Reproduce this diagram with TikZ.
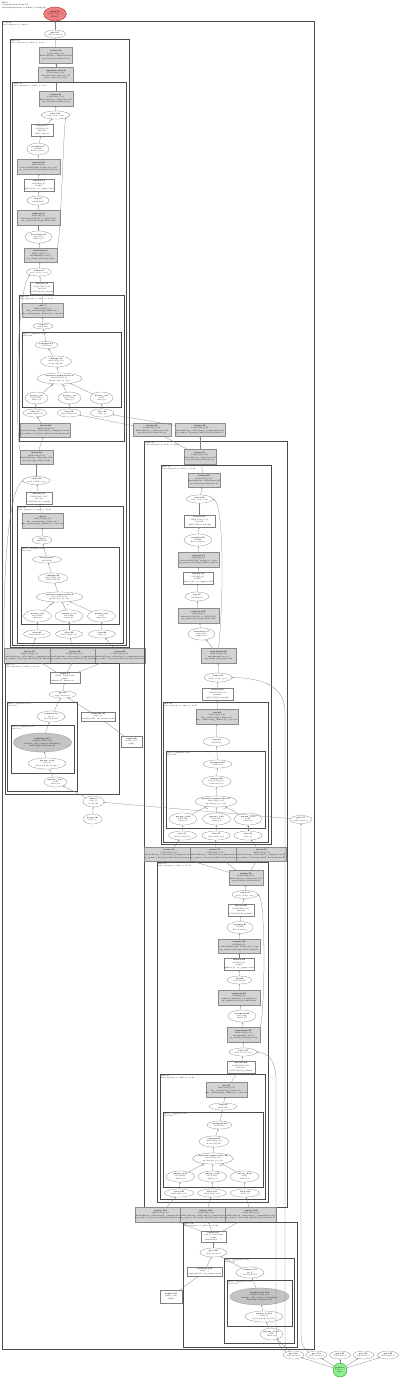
\documentclass[tikz,border=0pt]{standalone}
\usetikzlibrary{shapes.geometric,arrows.meta}
\definecolor{gfill}{HTML}{D3D3D3}
\definecolor{gefill}{HTML}{C4C4C4}
\definecolor{redf}{HTML}{F08080}
\definecolor{greenf}{HTML}{90EE90}
\tikzset{
 base/.style={inner sep=0pt,outer sep=0pt,align=center,font=\fontsize{1.9}{2.5}\selectfont,line width=0.25pt},
 gbox/.style={base,rectangle,draw=black!45,fill=gfill},
 wbox/.style={base,rectangle,draw=black!50,fill=white},
 ell/.style={base,ellipse,draw=black!50,fill=white,font=\fontsize{1.8}{2.4}\selectfont},
 gell/.style={base,ellipse,draw=black!45,fill=gefill},
 clus/.style={draw=black!70,line width=0.5pt},
 clab/.style={inner sep=0pt,anchor=north west,align=left,font=\fontsize{1.7}{2.2}\selectfont},
 edge/.style={draw=black!50,line width=0.25pt,-{Stealth[length=1.6pt,width=1.3pt]}},
 elab/.style={inner sep=0pt,font=\fontsize{1.5}{1.8}\selectfont},
}
\newcommand{\mkG}[6]{\node[gbox,minimum width=#4pt,minimum height=#5pt] (#1) at (#2,#3) {#6};}
\newcommand{\mkW}[6]{\node[wbox,minimum width=#4pt,minimum height=#5pt] (#1) at (#2,#3) {#6};}
\newcommand{\mkE}[6]{\node[ell,minimum width=#4pt,minimum height=#5pt] (#1) at (#2,#3) {#6};}
\newcommand{\mkGE}[6]{\node[gell,minimum width=#4pt,minimum height=#5pt] (#1) at (#2,#3) {#6};}
\newcommand{\mkC}[6]{\draw[clus] (#2,#3) rectangle (#4,#5); \node[clab] (#1) at (#2+0.9,#3+0.8) {#6};}
\newcommand{\tFw}[2]{\textbf{#1}\\f32[4,128]\{1,0\}\\kind=kLoop, calls=fused\_computation.#2\\op\_name="jit(step)/while/body/#1"}
\newcommand{\tFs}[2]{\textbf{#1}\\f32[4,128]\{1,0\}\\kind=kLoop, calls=fused.#2\\op=jit(step)/while/body}
\newcommand{\tB}[1]{\textbf{#1}\\f32[4,128]\{1,0\}\\bitcast\\(f32[512]\{0\} param)}
\begin{document}
\begin{tikzpicture}[x=1pt,y=-1pt]
\fill[white] (0,0) rectangle (400,1379);
\useasboundingbox (0,0) rectangle (400,1379);
\node[clab,font=\fontsize{2}{2.5}\selectfont] (hdr) at (2,1.6) {HLO\\Computation body.29\\Subcomputation of while.3 (body.29)};
\node[base,ellipse,draw=red!60!black,fill=redf,minimum width=21pt,minimum height=14pt] (root) at (55,14) {\textbf{tuple.57}\\(s32[], f32[...])\\ROOT};
% ===== outer cluster A
\mkC{cA}{2}{21}{314}{1349}{body.29\\Subcomputation: while.3}
\mkE{n1}{55}{34}{21}{8}{\textbf{gte.107}\\s32[] index=0}
% ===== cluster B
\mkC{cB}{10}{39}{129}{647}{while.12\\Subcomputation: while\_body.12}
\mkG{b1}{56}{55}{33}{16}{\tFs{fusion.33}{33}}
\mkG{b2}{56}{74.5}{35}{15}{\textbf{dynamic-slice.8}\\f32[1,128]\{1,0\}\\dynamic-slice(p0, p1, c0)\\slice\_sizes=\{1,128\}}
\mkC{cC}{12.7}{82}{126}{645}{while.15\\Subcomputation: while\_body.15}
\mkG{c1}{56}{98.5}{34}{15}{\tFs{fusion.41}{41}}
\mkE{c2}{55.5}{115}{29}{8}{\textbf{add.1.23}\\s32[] add(i, one)}
\mkW{c3}{42}{130}{22}{12}{\textbf{bitcast.9}\\f32[128]\{0\}\\bitcast\\f32[1,128] in}
\mkE{c4}{38}{149}{22}{12}{\textbf{multiply.17}\\f32[128]\\lhs=x, rhs=y}
\mkG{c5}{38.5}{166.5}{43}{15}{\textbf{convert.20}\\f32[128]\{0\}\\convert(bf16[128] reduce.4), type\\op\_name=jit(step)/while/convert}
\mkW{c6}{39}{185}{30}{12}{\textbf{reduce.14}\\f32[128]\{0\}\\reduce\\dims=\{0\}, to\_apply=add}
\mkE{c7}{38}{200.5}{22}{9}{\textbf{exp.12}\\f32[128]\{0\}}
\mkG{c8}{38.5}{217.5}{43}{15}{\textbf{subtract.9}\\f32[128]\{0\}\\subtract(f32[128] a, f32[128] b)\\op\_name=jit(step)/while/sub}
\mkE{c9}{38.5}{237}{27}{12}{\textbf{broadcast.20}\\f32[4,128]\\dims=\{1\}}
\mkG{c10}{40.5}{255}{33}{14}{\textbf{maximum.5}\\f32[4,128]\{1,0\}\\maximum(x, zero)\\op\_name=jit(step)/relu}
\mkE{c11}{39}{272}{24}{8}{\textbf{add.2.31}\\s32[] add(j, one)}
\mkW{c12}{42}{288}{22}{12}{\tB{bitcast.12}}
% cluster D
\mkC{cD}{19}{295}{124}{441}{while.18\\Subcomputation: while\_body.18}
\mkG{d1}{42.5}{310}{41}{14}{\textbf{dot.7}\\f32[4,128]\{1,0\}\\lhs\_contracting\_dims=\{1\}\\rhs\_contracting\_dims=\{0\}, op=dot}
\mkE{d2}{43}{326}{20}{6}{\textbf{copy.3}\\f32[4,128]}
\mkC{cE}{22}{332}{121}{407}{fused\_computation.22\\fusion.22}
\mkE{e1}{46.5}{345}{23}{7}{\textbf{transpose.5}\\f32[128,4]}
\mkE{e2}{56}{361.5}{31}{11}{\textbf{reshape.19}\\f32[4,128]\{1,0\}\\from f32[512]}
\mkE{e3}{59.5}{378.5}{45}{11}{\textbf{dynamic-update-slice.4}\\f32[4,128]\{1,0\}\\update(p0, p1, p2)}
\mkE{e4}{36.5}{398}{23}{12}{\textbf{param\_0.6}\\f32[4,128]\\fused p0}
\mkE{e5}{69.5}{398}{23}{12}{\textbf{param\_1.9}\\f32[1,128]\\fused p1}
\mkE{e6}{101.5}{398}{23}{12}{\textbf{param\_2.4}\\s32[]\\fused p2}
\mkE{d3}{35}{413}{24}{8}{\textbf{slice.17}\\f32[4,128]\{1,0\}}
\mkE{d4}{69}{413}{24}{8}{\textbf{slice.18}\\f32[1,128]\{1,0\}}
\mkE{d5}{102}{413}{24}{8}{\textbf{slice.19}\\s32[] \{\}}
\mkG{d6}{45.5}{430}{45}{14}{\tFw{fusion.22}{22}}
\mkG{c13}{36.5}{457}{33}{14}{\tFs{fusion.24}{24}}
\mkE{c14}{36.5}{480.5}{27}{8}{\textbf{add.3.40}\\s32[] add(k, one)}
\mkW{c15}{39}{498}{26}{12}{\tB{bitcast.15}}
% cluster F
\mkC{cF}{17}{506}{123}{643}{while.21\\Subcomputation: while\_body.21}
\mkG{f1}{42.5}{520.5}{41}{15}{\textbf{dot.9}\\f32[4,128]\{1,0\}\\lhs\_contracting\_dims=\{1\}\\rhs\_contracting\_dims=\{0\}, op=dot}
\mkE{f2}{42}{540}{20}{8}{\textbf{copy.5}\\f32[4,128]}
\mkC{cG}{21}{547}{119}{624}{fused\_computation.26\\fusion.26}
\mkE{g1}{47}{559.5}{29}{7}{\textbf{transpose.7}\\f32[128,4]}
\mkE{g2}{53}{578}{30}{10}{\textbf{reshape.23}\\f32[4,128]\{1,0\}\\from f32[512]}
\mkE{g3}{59.5}{597}{47}{10}{\textbf{dynamic-update-slice.6}\\f32[4,128]\{1,0\}\\update(p0, p1, p2)}
\mkE{g4}{37.5}{616}{28}{12}{\textbf{param\_0.8}\\f32[4,128]\\fused p0}
\mkE{g5}{69}{616}{28}{12}{\textbf{param\_1.11}\\f32[1,128]\\fused p1}
\mkE{g6}{101.5}{616}{28}{12}{\textbf{param\_2.6}\\s32[]\\fused p2}
\mkE{f3}{37}{634}{27}{8}{\textbf{slice.21}\\f32[4,128]\{1,0\}}
\mkE{f4}{69}{634}{27}{8}{\textbf{slice.22}\\f32[1,128]\{1,0\}}
\mkE{f5}{102}{634}{27}{8}{\textbf{slice.23}\\s32[] \{\}}
\mkG{p1}{29.5}{655.5}{45}{15}{\tFw{fusion.27}{27}}
\mkG{p2}{75}{655.5}{44}{15}{\tFw{fusion.28}{28}}
\mkG{p3}{120}{655.5}{44}{15}{\tFw{fusion.29}{29}}
% cluster H
\mkC{cH}{5}{663}{119}{794}{while.30\\Subcomputation: while\_cond.30}
\mkW{h1}{65}{677.5}{30}{11}{\textbf{tuple.31}\\(s32[], f32[4,128])\\tuple\\(fusion.27, fusion.28, ...)}
\mkE{h2}{62.5}{694.5}{27}{7}{\textbf{gte.32}\\s32[] index=0}
\mkC{cI}{7}{702}{77}{791}{fused\_computation.33\\fusion.33}
\mkE{i1}{51}{716.5}{28}{11}{\textbf{compare.34}\\pred[]\\direction=LT}
\mkC{cJ}{11}{725}{74}{773}{fused\_computation.35\\fusion.35}
\mkGE{j1}{42.5}{742.5}{58}{19}{\textbf{custom-call.7}\\f32[128,256]\{1,0\}\\custom\_call\_target="Sharding"\\sharding=\{replicated\}}
\mkE{j2}{47}{763.5}{38}{11}{\textbf{param\_0.36}\\s32[] \{\}\\fused param, index 0}
\mkE{i2}{55.5}{782}{23}{10}{\textbf{param\_0.37}\\s32[]\\fused p0}
\mkW{h3}{98}{716.5}{34}{9}{\textbf{constant.38}\\s32[] \{\}\\constant(16), op\_name=cond}
\mkW{q1}{131.5}{741.5}{21}{11}{\textbf{tuple.39}\\(s32[], f32)\\tuple}
\mkE{q2}{93.5}{801.5}{21}{11}{\textbf{while.3}\\s32[] \{\}\\body=29}
\mkE{q3}{92.5}{819}{19}{10}{\textbf{param.40}\\s32[] \{\}}
% ===== right column
\mkG{r1}{152}{429.5}{38}{13}{\tFs{fusion.44}{44}}
\mkG{r2}{200}{429.5}{44}{13}{\tFw{fusion.45}{45}}
\mkC{cK}{144.5}{441.5}{287.5}{1207}{while.46\\Subcomputation: while\_body.46}
\mkG{k1}{200}{456.5}{32}{15}{\tFs{fusion.47}{47}}
\mkC{cL}{161}{465}{271}{844}{while.48\\Subcomputation: while\_body.48}
\mkG{l1}{204}{480}{30}{14}{\tFs{fusion.49}{49}}
\mkE{l2}{199.5}{499}{27}{8}{\textbf{add.4.50}\\s32[] add(i, one)}
\mkW{l3}{199.5}{521}{31}{12}{\tB{bitcast.51}}
\mkE{l4}{198}{540}{28}{12}{\textbf{multiply.52}\\f32[128]\\lhs=x, rhs=y}
\mkG{l5}{198.5}{559.5}{41}{15}{\textbf{convert.53}\\f32[128]\{0\}\\convert(bf16[128] reduce.9), type\\op\_name=jit(step)/while/convert}
\mkW{l6}{198}{578}{30}{12}{\textbf{reduce.54}\\f32[128]\{0\}\\reduce\\dims=\{0\}, to\_apply=add}
\mkE{l7}{197}{596.5}{24}{9}{\textbf{exp.55}\\f32[128]\{0\}}
\mkG{l8}{198.5}{615.5}{41}{15}{\textbf{subtract.56}\\f32[128]\{0\}\\subtract(f32[128] a, f32[128] b)\\op\_name=jit(step)/while/sub}
\mkE{l9}{201.5}{634}{27}{12}{\textbf{broadcast.57}\\f32[4,128]\\dims=\{1\}}
\mkG{l10}{218.5}{655.5}{35}{15}{\textbf{maximum.58}\\f32[4,128]\{1,0\}\\maximum(x, zero)\\op\_name=jit(step)/relu}
\mkE{l11}{218}{677.5}{28}{9}{\textbf{add.5.59}\\s32[] add(j, one)}
\mkW{l12}{217.5}{694}{31}{12}{\tB{bitcast.60}}
\mkC{cM}{163}{702}{268}{842}{while.61\\Subcomputation: while\_body.61}
\mkG{m1}{217}{716.5}{42}{15}{\textbf{dot.62}\\f32[4,128]\{1,0\}\\lhs\_contracting\_dims=\{1\}\\rhs\_contracting\_dims=\{0\}, op=dot}
\mkE{m2}{216.5}{741.5}{27}{9}{\textbf{copy.63}\\f32[4,128]}
\mkC{cN}{166}{751}{265}{828}{fused\_computation.64\\fusion.64}
\mkE{nn1}{217.5}{764}{29}{8}{\textbf{transpose.65}\\f32[128,4]}
\mkE{nn2}{216.5}{781.5}{29}{11}{\textbf{reshape.66}\\f32[4,128]\{1,0\}\\from f32[512]}
\mkE{nn3}{216}{801.5}{42}{11}{\textbf{dynamic-update-slice.67}\\f32[4,128]\{1,0\}\\update(p0, p1, p2)}
\mkE{nn4}{183}{819}{28}{12}{\textbf{param\_0.68}\\f32[4,128]\\fused p0}
\mkE{nn5}{216.5}{819}{28}{12}{\textbf{param\_1.69}\\f32[1,128]\\fused p1}
\mkE{nn6}{248}{819}{28}{12}{\textbf{param\_2.70}\\s32[]\\fused p2}
\mkE{m3}{182.5}{835.5}{28}{9}{\textbf{slice.71}\\f32[4,128]\{1,0\}}
\mkE{m4}{216}{835.5}{28}{9}{\textbf{slice.72}\\f32[1,128]\{1,0\}}
\mkE{m5}{248}{835.5}{28}{9}{\textbf{slice.73}\\s32[] \{\}}
\mkG{s1}{169}{854}{44}{14}{\tFw{fusion.74}{74}}
\mkG{s2}{215}{854}{44}{14}{\tFw{fusion.75}{75}}
\mkG{s3}{261.5}{854}{43}{14}{\tFw{fusion.76}{76}}
\mkC{cO}{157}{862}{268}{1202}{while.77\\Subcomputation: while\_body.77}
\mkG{o1}{246}{877.5}{34}{15}{\tFs{fusion.78}{78}}
\mkE{o2}{245}{894.5}{26}{8}{\textbf{add.6.79}\\s32[] add(i, one)}
\mkW{o3}{241}{910}{26}{12}{\tB{bitcast.80}}
\mkE{o4}{240}{927.5}{26}{12}{\textbf{multiply.81}\\f32[128]\\lhs=x, rhs=y}
\mkG{o5}{239}{946}{42}{14}{\textbf{convert.82}\\f32[128]\{0\}\\convert(bf16[128] reduce.11), type\\op\_name=jit(step)/while/convert}
\mkW{o6}{239}{964}{30}{12}{\textbf{reduce.83}\\f32[128]\{0\}\\reduce\\dims=\{0\}, to\_apply=add}
\mkE{o7}{239.5}{980}{25}{8}{\textbf{exp.84}\\f32[128]\{0\}}
\mkG{o8}{239}{997.5}{42}{15}{\textbf{subtract.85}\\f32[128]\{0\}\\subtract(f32[128] a, f32[128] b)\\op\_name=jit(step)/while/sub}
\mkE{o9}{242}{1016}{28}{12}{\textbf{broadcast.86}\\f32[4,128]\\dims=\{1\}}
\mkG{o10}{243.5}{1034.5}{33}{15}{\textbf{maximum.87}\\f32[4,128]\{1,0\}\\maximum(x, zero)\\op\_name=jit(step)/relu}
\mkE{o11}{243}{1052}{28}{8}{\textbf{add.7.88}\\s32[] add(j, one)}
\mkW{o12}{241}{1067}{28}{12}{\tB{bitcast.89}}
\mkC{cP}{160}{1074}{265}{1199}{while.90\\Subcomputation: while\_body.90}
\mkG{pp1}{226.5}{1089.5}{41}{15}{\textbf{dot.91}\\f32[4,128]\{1,0\}\\lhs\_contracting\_dims=\{1\}\\rhs\_contracting\_dims=\{0\}, op=dot}
\mkE{pp2}{223}{1106.5}{28}{7}{\textbf{copy.92}\\f32[4,128]}
\mkC{cQ}{163}{1112}{263}{1187}{fused\_computation.93\\fusion.93}
\mkE{qq1}{219.5}{1125}{25}{8}{\textbf{transpose.94}\\f32[128,4]}
\mkE{qq2}{214}{1141.5}{30}{11}{\textbf{reshape.95}\\f32[4,128]\{1,0\}\\from f32[512]}
\mkE{qq3}{213}{1158.5}{40}{11}{\textbf{dynamic-update-slice.96}\\f32[4,128]\{1,0\}\\update(p0, p1, p2)}
\mkE{qq4}{180.5}{1176.5}{29}{11}{\textbf{param\_0.97}\\f32[4,128]\\fused p0}
\mkE{qq5}{212.5}{1176.5}{29}{11}{\textbf{param\_1.98}\\f32[1,128]\\fused p1}
\mkE{qq6}{244.5}{1176.5}{29}{11}{\textbf{param\_2.99}\\s32[]\\fused p2}
\mkE{pp3}{179}{1193}{29}{8}{\textbf{slice.100}\\f32[4,128]\{1,0\}}
\mkE{pp4}{212}{1193}{29}{8}{\textbf{slice.101}\\f32[1,128]\{1,0\}}
\mkE{pp5}{245}{1193}{29}{8}{\textbf{slice.102}\\s32[] \{\}}
\mkG{t1}{160.5}{1214.5}{45}{15}{\tFw{fusion.103}{103}}
\mkG{t2}{206}{1214.5}{44}{15}{\tFw{fusion.104}{104}}
\mkG{t3}{251}{1214.5}{44}{15}{\tFw{fusion.105}{105}}
\mkC{cR}{183}{1222}{297}{1347}{while.106\\Subcomputation: while\_cond.106}
\mkW{u1}{213.5}{1236.5}{25}{11}{\textbf{tuple.107}\\(s32[], f32[4,128])\\tuple\\(fusion.103, ...)}
\mkE{u2}{213.5}{1252.5}{27}{9}{\textbf{gte.108}\\s32[] index=0}
\mkW{u3}{204.5}{1271.5}{35}{9}{\textbf{constant.109}\\s32[] \{\}\\constant(16), op\_name=cond}
\mkC{cS}{224}{1258}{294}{1343}{fused\_computation.110\\fusion.110}
\mkE{v1}{250}{1272.5}{28}{11}{\textbf{compare.111}\\pred[]\\direction=LT}
\mkC{cT}{227}{1280}{292}{1326}{fused\_computation.112\\fusion.112}
\mkGE{w1}{259.5}{1296.5}{59}{17}{\textbf{custom-call.113}\\f32[128,256]\{1,0\}\\custom\_call\_target="Sharding"\\sharding=\{replicated\}}
\mkE{w2}{264}{1316.5}{38}{11}{\textbf{param\_0.114}\\s32[] \{\}\\fused param, index 0}
\mkE{v2}{271.5}{1334}{21}{12}{\textbf{param\_0.115}\\s32[]\\fused p0}
\mkW{x1}{171}{1296.5}{22}{13}{\textbf{tuple.116}\\(s32[], f32)\\tuple}
\mkE{y1}{301}{819.5}{22}{8}{\textbf{gte.117}\\s32[] index=1}
\mkE{z1}{293.5}{1355}{21}{8}{\textbf{gte.118}\\s32[] index=0}
\mkE{z2}{316.5}{1355}{21}{8}{\textbf{gte.119}\\s32[] index=1}
\mkE{z3}{340}{1355}{21}{8}{\textbf{gte.120}\\f32 index=2}
\mkE{z4}{363.5}{1355}{21}{8}{\textbf{gte.121}\\f32 index=3}
\mkE{z5}{388}{1355}{21}{8}{\textbf{gte.122}\\f32 index=4}
\node[base,circle,draw=green!45!black,fill=greenf,minimum size=14pt,font=\fontsize{1.7}{2.2}\selectfont] (gr) at (340,1370) {\textbf{param.1}\\(s32[], ...)\\tuple};
% ===== edges
\foreach \a/\b in {n1/root,b1/n1,b2/b1,c1/b2,c2/c1,c3/c2,c4/c3,c5/c4,c6/c5,c7/c6,c8/c7,c9/c8,c10/c9,c11/c10,c12/c11,d1/c12,d2/d1,e1/d2,e2/e1,e3/e2,e4/e3,e5/e3,e6/e3,d3/e4,d4/e5,d5/e6,d6/d3,c13/d6,c14/c13,c15/c14,f1/c15,f2/f1,g1/f2,g2/g1,g3/g2,g4/g3,g5/g3,g6/g3,f3/g4,f4/g5,f5/g6,p1/f3,p2/f4,p3/f5,h1/p1,h1/p2,h1/p3,h2/h1,i1/h2,j1/i1,j2/j1,i2/j2,h3/h2,q1/h3,q2/i2,q3/q2,y1/q2,r1/d4,r2/d5,k1/r1,k1/r2,l1/k1,l2/l1,l3/l2,l4/l3,l5/l4,l6/l5,l7/l6,l8/l7,l9/l8,l10/l9,l11/l10,l12/l11,m1/l12,m2/m1,nn1/m2,nn2/nn1,nn3/nn2,nn4/nn3,nn5/nn3,nn6/nn3,m3/nn4,m4/nn5,m5/nn6,s1/m3,s2/m4,s3/m5,o1/s1,o1/s2,o1/s3,o2/o1,o3/o2,o4/o3,o5/o4,o6/o5,o7/o6,o8/o7,o9/o8,o10/o9,o11/o10,o12/o11,pp1/o12,pp2/pp1,qq1/pp2,qq2/qq1,qq3/qq2,qq4/qq3,qq5/qq3,qq6/qq3,pp3/qq4,pp4/qq5,pp5/qq6,t1/pp3,t2/pp4,t3/pp5,u1/t1,u1/t2,u1/t3,u2/u1,v1/u2,w1/v1,w2/w1,v2/w2,u3/u2,x1/u3,z1/v2,gr/z1,gr/z2,gr/z3,gr/z4,gr/z5}
  \draw[edge] (\a) -- (\b);
\draw[edge] (c10.north east) .. controls (61,240) and (63,135) .. (c2.south east);
\draw[edge] (c13.north west) .. controls (16,440) and (15,290) .. (c11.south west);
\draw[edge] (p1.north west) .. controls (3,640) and (3,495) .. (c14.west);
\draw[edge] (l10.north) .. controls (223,610) and (225,505) .. (l2.east);
\draw[edge] (o10.north east) .. controls (265,1015) and (266,900) .. (o2.east);
\draw[edge] (z1.north west) .. controls (285,1347) and (285,1335) .. (285,1320) -- (285,712) .. controls (285,686) and (262,678) .. (l11.east);
\draw[edge] (z1.north west) .. controls (277,1347) and (276,1335) .. (276,1320) -- (276,1080) .. controls (276,1060) and (268,1053) .. (o11.east);
\draw[edge] (z2.north west) .. controls (302,1349) and (301,1340) .. (301,1332) -- (y1.south);
% edge labels
\node[elab] (la1) at (52,386) {lhs}; \node[elab] (la2) at (65,386) {rhs};
\node[elab] (la3) at (51,604.5) {lhs}; \node[elab] (la4) at (68,604.5) {rhs};
\node[elab] (la5) at (207,809) {lhs}; \node[elab] (la6) at (225,809) {rhs};
\node[elab] (la7) at (203,1166) {lhs}; \node[elab] (la8) at (221,1166) {rhs};
\end{tikzpicture}
\end{document}
